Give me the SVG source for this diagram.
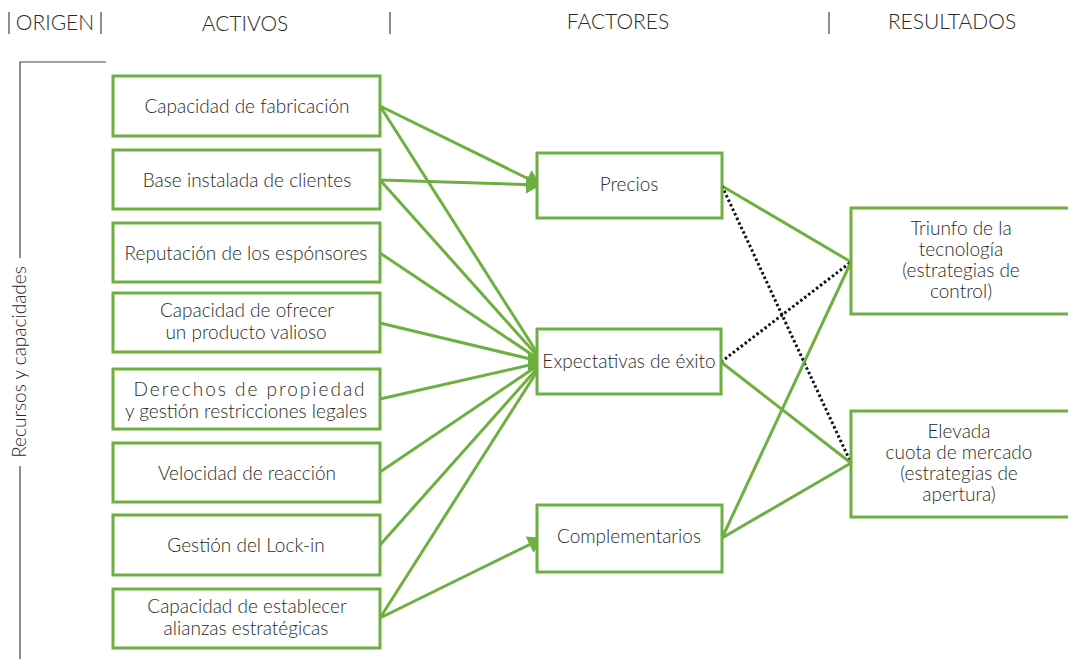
<svg xmlns="http://www.w3.org/2000/svg" width="1068" height="659" viewBox="0 0 1068 659">
<style>
text{font-family:Lato,"Open Sans","Liberation Sans",sans-serif;font-weight:300;fill:#2a2a2a;font-size:19px;text-anchor:middle}
.hdr{font-size:21px}
.box{fill:#fff;stroke:#6db040;stroke-width:3}
.g{stroke:#6db040;stroke-width:3;fill:none}
.d{stroke:#111;stroke-width:3;fill:none;stroke-dasharray:2.5 2.5}
.k{stroke:#444;stroke-width:1.2;fill:none}
</style>
<defs>
<marker id="ah" markerUnits="userSpaceOnUse" markerWidth="16" markerHeight="18" refX="15" refY="9" orient="auto"><path d="M0,0 L15,9 L0,18 Z" fill="#6db040"/></marker>
<marker id="ah0" markerUnits="userSpaceOnUse" markerWidth="16" markerHeight="18" refX="15" refY="9" orient="0"><path d="M0,0 L15,9 L0,18 Z" fill="#6db040"/></marker>
</defs>
<g id="headers">
<path class="k" d="M9,12V34M101,12V34M390,12V34M829,12V34"/>
<text class="hdr" x="55" y="30">ORIGEN</text>
<text class="hdr" x="245" y="31">ACTIVOS</text>
<text class="hdr" x="618" y="29">FACTORES</text>
<text class="hdr" x="952" y="29">RESULTADOS</text>
</g>
<g id="origen">
<path class="k" d="M106,62H20V258M20,466V659"/>
<text transform="translate(26,362) rotate(-90)" font-size="19">Recursos y capacidades</text>
</g>
<g id="connectors">
<path class="g" d="M380,106L541,185" marker-end="url(#ah)"/>
<path class="g" d="M380,180L541,185" marker-end="url(#ah)"/>
<path class="g" d="M380,106L543,362" marker-end="url(#ah0)"/>
<path class="g" d="M380,180L543,362" marker-end="url(#ah0)"/>
<path class="g" d="M380,253L543,362" marker-end="url(#ah0)"/>
<path class="g" d="M380,323L543,362" marker-end="url(#ah0)"/>
<path class="g" d="M380,399L543,362" marker-end="url(#ah0)"/>
<path class="g" d="M380,472L543,362" marker-end="url(#ah0)"/>
<path class="g" d="M380,545L543,362" marker-end="url(#ah0)"/>
<path class="g" d="M380,618L543,362" marker-end="url(#ah0)"/>
<path class="g" d="M380,618L543,538" marker-end="url(#ah)"/>
<path class="g" d="M722,186L851,262"/>
<path class="d" d="M722,186L851,463"/>
<path class="d" d="M721,362L851,262"/>
<path class="g" d="M721,362L851,463"/>
<path class="g" d="M722,538L851,262"/>
<path class="g" d="M722,538L851,463"/>
</g>
<g id="a1"><rect class="box" x="113" y="76" width="267" height="60"/><text x="247" y="113">Capacidad de fabricación</text></g>
<g id="a2"><rect class="box" x="113" y="150" width="267" height="59"/><text x="247" y="187">Base instalada de clientes</text></g>
<g id="a3"><rect class="box" x="113" y="223" width="267" height="59"/><text x="246" y="260">Reputación de los espónsores</text></g>
<g id="a4"><rect class="box" x="113" y="293" width="267" height="59"/><text x="247" y="317">Capacidad de ofrecer</text><text x="246" y="339">un producto valioso</text></g>
<g id="a5"><rect class="box" x="113" y="369" width="267" height="60"/><text x="250" y="396" letter-spacing="2">Derechos de propiedad</text><text x="246" y="418">y gestión restricciones legales</text></g>
<g id="a6"><rect class="box" x="113" y="443" width="267" height="59"/><text x="247" y="480">Velocidad de reacción</text></g>
<g id="a7"><rect class="box" x="113" y="515" width="267" height="60"/><text x="246" y="552">Gestión del Lock-in</text></g>
<g id="a8"><rect class="box" x="113" y="589" width="267" height="59"/><text x="247" y="613">Capacidad de establecer</text><text x="246" y="635">alianzas estratégicas</text></g>
<g id="f1"><rect class="box" x="537" y="153" width="185" height="65"/><text x="629" y="191">Precios</text></g>
<g id="f2"><rect class="box" x="537" y="329" width="184" height="65"/><text x="629" y="368">Expectativas de éxito</text></g>
<g id="f3"><rect class="box" x="537" y="505" width="185" height="67"/><text x="629" y="543">Complementarios</text></g>
<g id="r1"><rect class="box" x="851" y="208" width="222" height="106"/><text x="961" y="235">Triunfo de la</text><text x="961" y="256">tecnología</text><text x="961" y="277">(estrategias de</text><text x="961" y="298">control)</text></g>
<g id="r2"><rect class="box" x="851" y="411" width="222" height="106"/><text x="959" y="438">Elevada</text><text x="959" y="459">cuota de mercado</text><text x="959" y="480">(estrategias de</text><text x="959" y="501">apertura)</text></g>
</svg>
